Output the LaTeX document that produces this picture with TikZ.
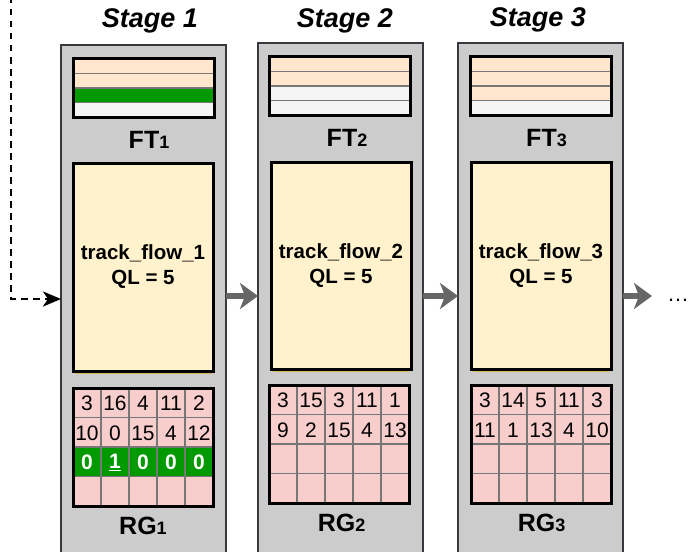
\documentclass[tikz,border=0pt]{standalone}
\usepackage{fontspec}
\setmainfont{Liberation Sans}
\usetikzlibrary{arrows.meta,calc}
\definecolor{stagegray}{HTML}{CCCCCC}
\definecolor{stageline}{HTML}{36393D}
\definecolor{peach}{HTML}{FFE6CC}
\definecolor{fgreen}{HTML}{009900}
\definecolor{offwhite}{HTML}{F5F5F5}
\definecolor{trackfill}{HTML}{FFF2CC}
\definecolor{trackline}{HTML}{D6B656}
\definecolor{pinkcell}{HTML}{F8CECC}
\definecolor{gridline}{HTML}{777777}
\definecolor{arrowgray}{HTML}{666666}
\newcommand{\boxlbl}[2]{{\fontsize{25}{28}\selectfont #1}{\fontsize{18}{20}\selectfont #2}}
\begin{document}
\begin{tikzpicture}[x=1pt,y=-1pt,
  stagebox/.style={draw=stageline, fill=stagegray, line width=1.5pt, minimum width=165pt, minimum height=530pt, anchor=north west, inner sep=0pt, outer sep=0pt},
  stagetitle/.style={font=\fontsize{27}{30}\selectfont\bfseries\itshape, anchor=base, inner sep=0pt},
  boxlabel/.style={font=\bfseries, anchor=base, inner sep=0pt},
  fttable/.style n args={4}{draw=black, line width=3pt, minimum width=141pt, minimum height=58pt, anchor=north west, inner sep=0pt, outer sep=0pt,
    path picture={
      \foreach \c [count=\k from 0] in {#1,#2,#3,#4} {
        \fill[\c] ($(path picture bounding box.north west)+(0,\k*14.5)$) rectangle ($(path picture bounding box.north east)+(0,\k*14.5+14.5)$);
      }
      \foreach \k in {1,2,3} {
        \draw[gridline, line width=1.8pt] ($(path picture bounding box.north west)+(0,\k*14.5)$) -- ($(path picture bounding box.north east)+(0,\k*14.5)$);
      }
    }},
  rgtable/.style={draw=black, line width=3pt, minimum width=140pt, minimum height=118pt, anchor=north west, inner sep=0pt, outer sep=0pt,
    path picture={
      \fill[pinkcell] (path picture bounding box.north west) rectangle (path picture bounding box.south east);
      \fill[#1] ($(path picture bounding box.north west)+(0,59)$) rectangle ($(path picture bounding box.north east)+(0,88.5)$);
      \foreach \k in {1,2,3} {
        \draw[gridline, line width=1.5pt] ($(path picture bounding box.north west)+(0,\k*29.5)$) -- ($(path picture bounding box.north east)+(0,\k*29.5)$);
      }
      \foreach \k in {1,...,4} {
        \draw[gridline, line width=1.5pt] ($(path picture bounding box.north west)+(\k*28,0)$) -- ($(path picture bounding box.south west)+(\k*28,0)$);
      }
    }},
  trackbox/.style={draw=black, fill=trackfill, line width=3pt, minimum width=140pt, minimum height=207pt, anchor=north west, inner sep=0pt, outer sep=0pt, align=center, font=\fontsize{20.5}{25}\selectfont\bfseries},
  gridcell/.style={font=\fontsize{21}{24}\selectfont, inner sep=0pt},
  greencell/.style={font=\fontsize{21}{24}\selectfont\bfseries, text=white, inner sep=0pt},
  bigarrow/.style={draw=arrowgray, line width=6.5pt, -{Stealth[length=18pt, width=26pt, inset=5pt]}},
  dashline/.style={draw=black, line width=2.8pt, dash pattern=on 6.5pt off 5.5pt, -{Stealth[length=18pt, width=15pt, inset=5pt]}}
]
\useasboundingbox (0,0) rectangle (690,551);

% stages
\node[stagebox] (s1) at (61,45) {};
\node[stagebox] (s2) at (258,43) {};
\node[stagebox] (s3) at (458,43) {};

\node[stagetitle] (t1) at (150,28) {Stage 1};
\node[stagetitle] (t2) at (345,28) {Stage 2};
\node[stagetitle] (t3) at (538,27) {Stage 3};

% flow tables
\node[fttable={peach}{peach}{fgreen}{offwhite}] (ft1) at (73,59) {};
\node[fttable={peach}{peach}{offwhite}{offwhite}] (ft2) at (269,57) {};
\node[fttable={peach}{peach}{peach}{offwhite}] (ft3) at (470,57) {};
\node[boxlabel] (ftl1) at (149,148) {\boxlbl{FT}{1}};
\node[boxlabel] (ftl2) at (347,146) {\boxlbl{FT}{2}};
\node[boxlabel] (ftl3) at (546.5,146) {\boxlbl{FT}{3}};

% track flow boxes
\node[trackbox, minimum height=208pt] (tf1) at (73,163) {track\_flow\_1\\QL = 5};
\node[trackbox] (tf2) at (271,162) {track\_flow\_2\\QL = 5};
\node[trackbox] (tf3) at (471,162) {track\_flow\_3\\QL = 5};
\foreach \t in {tf1,tf2,tf3} {
  \draw[trackline, line width=1pt] ($(\t.south west)+(1.5,2)$) -- ($(\t.south east)+(-1.5,2)$);
}

% register grids
\node[rgtable=fgreen] (rg1) at (73,388) {};
\node[rgtable=pinkcell] (rg2) at (269,385) {};
\node[rgtable=pinkcell] (rg3) at (471,385) {};

\foreach \v [count=\i from 0] in {3,16,4,11,2}
  \node[gridcell] (rg1a\i) at ($(rg1.north west)+(14+28*\i,15.5)$) {\v};
\foreach \v [count=\i from 0] in {10,0,15,4,12}
  \node[gridcell] (rg1b\i) at ($(rg1.north west)+(14+28*\i,45)$) {\v};
\foreach \v [count=\i from 0] in {0,\underline{1},0,0,0}
  \node[greencell] (rg1c\i) at ($(rg1.north west)+(14+28*\i,74.5)$) {\v};

\foreach \v [count=\i from 0] in {3,15,3,11,1}
  \node[gridcell] (rg2a\i) at ($(rg2.north west)+(14+28*\i,15.5)$) {\v};
\foreach \v [count=\i from 0] in {9,2,15,4,13}
  \node[gridcell] (rg2b\i) at ($(rg2.north west)+(14+28*\i,45)$) {\v};

\foreach \v [count=\i from 0] in {3,14,5,11,3}
  \node[gridcell] (rg3a\i) at ($(rg3.north west)+(14+28*\i,15.5)$) {\v};
\foreach \v [count=\i from 0] in {11,1,13,4,10}
  \node[gridcell] (rg3b\i) at ($(rg3.north west)+(14+28*\i,45)$) {\v};

\node[boxlabel] (rgl1) at (143,534) {\boxlbl{RG}{1}};
\node[boxlabel] (rgl2) at (341.5,531) {\boxlbl{RG}{2}};
\node[boxlabel] (rgl3) at (541.5,531) {\boxlbl{RG}{3}};

% connectors
\coordinate (amid) at (0,296);
\coordinate (dmid) at (0,299);
\coordinate (dtop) at (11,-3);
\coordinate (a3end) at (652,296);
\node[anchor=base west, inner sep=0pt, font=\fontsize{22}{24}\selectfont] (dots) at (667,301) {…};

\draw[bigarrow] (s1.east |- amid) -- (s2.west |- amid);
\draw[bigarrow] (s2.east |- amid) -- (s3.west |- amid);
\draw[bigarrow] (s3.east |- amid) -- (a3end);
\draw[dashline] (dtop) |- (s1.west |- dmid);
\end{tikzpicture}
\end{document}
